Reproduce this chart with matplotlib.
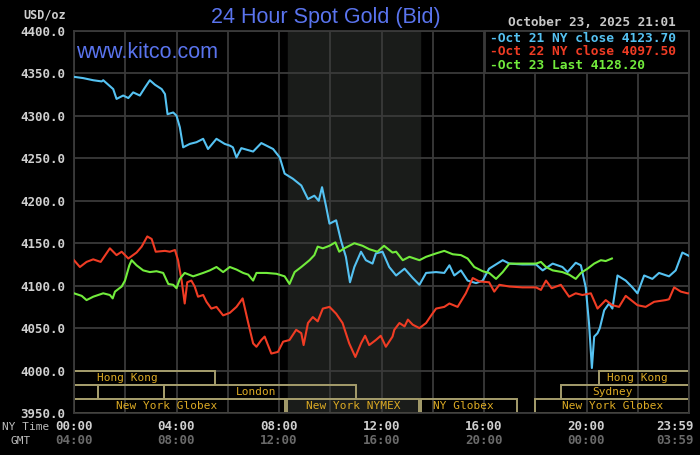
import matplotlib
matplotlib.use("Agg")
from matplotlib import pyplot as plt
from matplotlib.patches import Rectangle
import matplotlib.transforms as mtransforms

# hours since 00:00 NY time, price in USD/oz
blue_t = [0, 0.36, 0.75, 1.08, 1.14, 1.53, 1.66, 1.92, 2.12, 2.31, 2.57, 2.77, 2.96, 3.16,
          3.42, 3.55, 3.65, 3.87, 4.0, 4.13, 4.26, 4.52, 4.78, 5.04, 5.23, 5.56, 5.88, 6.08,
          6.2, 6.34, 6.53, 6.99, 7.31, 7.77, 8.03, 8.22, 8.54, 8.87, 9.13, 9.38, 9.55, 9.68,
          9.84, 9.97, 10.23, 10.42, 10.61, 10.77, 10.94, 11.2, 11.39, 11.65, 11.78, 12.04,
          12.3, 12.57, 12.9, 13.22, 13.48, 13.74, 14.13, 14.45, 14.65, 14.84, 15.1, 15.36,
          15.69, 15.95, 16.2, 16.73, 16.99, 17.5, 18.03, 18.29, 18.68, 19.06, 19.26, 19.58,
          19.78, 19.97, 20.1, 20.21, 20.3, 20.43, 20.52, 20.69, 20.88, 21.01, 21.21, 21.53,
          21.79, 21.99, 22.25, 22.57, 22.83, 23.22, 23.48, 23.74, 23.94, 24.0]
blue_p = [4346, 4344.5, 4342, 4340.6, 4342, 4331.6, 4320, 4324, 4321, 4327.7, 4324, 4333.5,
          4342, 4336.7, 4331.6, 4325.7, 4302, 4304, 4300.3, 4286.6, 4263, 4267, 4269, 4273,
          4261, 4273, 4267, 4265, 4263, 4251, 4262, 4258, 4268, 4261, 4251, 4232, 4226, 4218,
          4202, 4206, 4200, 4216, 4193, 4173, 4177, 4153, 4134, 4104, 4122, 4140, 4130, 4126,
          4138, 4140, 4122, 4112, 4120, 4109, 4101, 4115, 4116, 4115, 4124, 4112, 4118, 4106,
          4103, 4106, 4120, 4130, 4126, 4125, 4125, 4118, 4126, 4122, 4116, 4127, 4124, 4098,
          4055, 4003, 4040, 4044, 4050, 4071, 4079, 4073, 4112, 4106, 4098, 4091, 4112, 4108,
          4115, 4111, 4118, 4139, 4136, 4135]

red_t = [0, 0.23, 0.49, 0.75, 1.04, 1.4, 1.66, 1.86, 2.12, 2.44, 2.64, 2.86, 3.03, 3.19,
         3.55, 3.74, 3.94, 4.06, 4.2, 4.32, 4.42, 4.58, 4.71, 4.84, 5.04, 5.17, 5.36, 5.56,
         5.82, 6.08, 6.34, 6.58, 6.8, 6.99, 7.12, 7.31, 7.44, 7.7, 7.96, 8.16, 8.41, 8.67,
         8.87, 8.96, 9.13, 9.32, 9.51, 9.71, 9.97, 10.23, 10.48, 10.74, 10.98, 11.2, 11.36,
         11.52, 11.78, 11.97, 12.17, 12.43, 12.5, 12.7, 12.9, 13.03, 13.22, 13.48, 13.74,
         13.94, 14.13, 14.45, 14.65, 14.97, 15.29, 15.56, 15.82, 16.2, 16.4, 16.6, 16.99,
         17.5, 18.03, 18.22, 18.42, 18.64, 19.0, 19.32, 19.58, 19.84, 20.17, 20.43, 20.75,
         21.01, 21.27, 21.53, 21.99, 22.31, 22.64, 23.09, 23.22, 23.42, 23.68, 23.94, 24.0]
red_p = [4130, 4122, 4128, 4131, 4128, 4144, 4136, 4140, 4132, 4139, 4146, 4158, 4155, 4140,
         4141, 4140, 4142, 4130, 4106, 4079, 4104, 4106, 4099, 4087, 4089, 4081, 4073, 4075,
         4065, 4068, 4075, 4085, 4056, 4032, 4028, 4036, 4040, 4020, 4022, 4034, 4036, 4048,
         4044, 4030, 4056, 4063, 4058, 4073, 4075, 4067, 4056, 4032, 4016, 4032, 4041, 4030,
         4036, 4041, 4028, 4040, 4048, 4056, 4052, 4060, 4054, 4050, 4056, 4065, 4073, 4075,
         4079, 4075, 4091, 4109, 4105, 4104, 4093, 4101, 4099, 4098, 4098, 4095, 4106, 4097,
         4101, 4087, 4091, 4089, 4091, 4073, 4083, 4077, 4075, 4088, 4077, 4075, 4081, 4083,
         4084, 4098, 4093, 4091, 4091]

green_t = [0, 0.3, 0.49, 0.75, 1.14, 1.4, 1.51, 1.6, 1.86, 1.99, 2.16, 2.25, 2.44, 2.7, 2.96,
           3.22, 3.48, 3.68, 3.87, 4.0, 4.13, 4.32, 4.65, 5.04, 5.3, 5.56, 5.82, 6.08, 6.34,
           6.6, 6.8, 6.99, 7.12, 7.51, 7.9, 8.22, 8.41, 8.61, 8.87, 9.19, 9.38, 9.51, 9.71,
           9.97, 10.2, 10.35, 10.55, 10.94, 11.26, 11.52, 11.84, 12.1, 12.43, 12.57, 12.83,
           13.09, 13.48, 13.74, 14.13, 14.45, 14.78, 15.1, 15.36, 15.62, 15.95, 16.2, 16.47,
           16.73, 16.99, 17.5, 18.03, 18.22, 18.42, 18.68, 19.06, 19.32, 19.58, 19.78, 20.04,
           20.3, 20.56, 20.75, 20.99]
green_p = [4091, 4088, 4083, 4087, 4091, 4089, 4085, 4093, 4099, 4106, 4124, 4130, 4124, 4118,
           4116, 4117, 4115, 4102, 4101, 4097, 4108, 4115, 4111, 4115, 4118, 4122, 4116, 4122,
           4119, 4115, 4113, 4106, 4115, 4115, 4114, 4111, 4102, 4116, 4122, 4130, 4136, 4146,
           4144, 4147, 4151, 4140, 4144, 4150, 4147, 4143, 4140, 4147, 4139, 4140, 4130, 4134,
           4130, 4134, 4138, 4141, 4137, 4136, 4132, 4122, 4117, 4115, 4108, 4116, 4126, 4126,
           4126, 4128, 4122, 4118, 4116, 4113, 4108, 4115, 4120, 4126, 4130, 4129, 4132]

legend_labels = ["-Oct 21 NY close 4123.70", "-Oct 22 NY close 4097.50", "-Oct 23 Last 4128.20"]
y_ticks = [3950, 4000, 4050, 4100, 4150, 4200, 4250, 4300, 4350, 4400]
ny_labels = ["00:00", "04:00", "08:00", "12:00", "16:00", "20:00", "23:59"]
gmt_labels = ["04:00", "08:00", "12:00", "16:00", "20:00", "00:00", "03:59"]

# market sessions: (row, start, end, label, label position)
sessions = [
    (0, 0.0, 5.5, "Hong Kong", 2.1),
    (0, 20.5, 24.0, "Hong Kong", 22.0),
    (1, 0.0, 0.92, "", 0),
    (1, 0.92, 3.5, "", 0),
    (1, 3.5, 11.0, "London", 7.1),
    (1, 19.0, 24.0, "Sydney", 21.0),
    (2, 0.0, 8.25, "New York Globex", 3.63),
    (2, 8.33, 13.47, "New York NYMEX", 10.9),
    (2, 13.53, 17.3, "NY Globex", 15.2),
    (2, 18.0, 24.0, "New York Globex", 21.0),
]

BLUE = "#55c2f2"
RED = "#f03c24"
GREEN = "#72ec3c"
GRID = "#3a3a3a"
MONO = "DejaVu Sans Mono"

fig = plt.figure(figsize=(7, 4.55), dpi=100, facecolor="black")
ax = fig.add_axes([74 / 700, 42 / 455, 615 / 700, 382 / 455])
ax.set_facecolor("black")
ax.set_xlim(0, 24)
ax.set_ylim(3950, 4400)

# NYMEX hours shading
ax.axvspan(8.333, 13.5, color="#1a1c1a", zorder=0)

ax.set_xticks(range(0, 25, 2))
ax.set_yticks(y_ticks)
ax.grid(True, color=GRID, linewidth=1.3, zorder=1)
ax.tick_params(length=0, labelbottom=False)
ax.set_yticklabels([f"{v:.1f}" for v in y_ticks], fontfamily=MONO, fontweight="bold",
                   fontsize=9, color="#cfcfcf")
ax.tick_params(axis="y", pad=6)
for s in ax.spines.values():
    s.set_color(GRID)
    s.set_linewidth(1.3)

ax.plot(blue_t, blue_p, color=BLUE, lw=1.5, zorder=3)
ax.plot(red_t, red_p, color=RED, lw=1.5, zorder=3)
ax.plot(green_t, green_p, color=GREEN, lw=1.5, zorder=4)

# session boxes in bottom 50 dollars
row_h = 50 / 3
for row, start, end, label, lx in sessions:
    y0 = 4000 - (row + 1) * row_h
    ax.add_patch(Rectangle((start, y0), end - start, row_h, facecolor="none",
                           edgecolor="#a59d6c", lw=1.4, zorder=2))
    if label:
        ax.text(lx, y0 + row_h / 2, label, ha="center", va="center", fontfamily=MONO,
                fontsize=8, color="#dcaa24", zorder=5)

# x labels, NY time and GMT
trans = mtransforms.blended_transform_factory(ax.transData, fig.transFigure)
for i, (ny, gmt) in enumerate(zip(ny_labels, gmt_labels)):
    x = i * 4 if i < 6 else 24.2
    ha = "center" if i < 6 else "right"
    ax.text(x, 1 - 426 / 455, ny, transform=trans, ha=ha, va="center", fontfamily=MONO,
            fontweight="bold", fontsize=9, color="#cfcfcf")
    ax.text(x, 1 - 441 / 455, gmt, transform=trans, ha=ha, va="center", fontfamily=MONO,
            fontweight="bold", fontsize=9, color="#6a6a6a")
fig.text(2 / 700, 1 - 427 / 455, "NY Time", ha="left", va="center", fontfamily=MONO,
         fontsize=8, color="#bdbdbd")
fig.text(21 / 700, 1 - 441 / 455, "GMT", ha="center", va="center", fontfamily=MONO,
         fontsize=8, color="#bdbdbd")
fig.text(45 / 700, 1 - 15 / 455, "USD/oz", ha="center", va="center", fontfamily=MONO,
         fontweight="bold", fontsize=8.5, color="#cfcfcf")

# titles
fig.text(326 / 700, 1 - 17 / 455, "24 Hour Spot Gold (Bid)", ha="center", va="center",
         fontfamily="Liberation Sans", fontsize=15.5, color="#5a74ee")
fig.text(76 / 700, 1 - 53 / 455, "www.kitco.com", ha="left", va="center",
         fontfamily="Liberation Sans", fontsize=15.5, color="#5a74ee", zorder=6)
fig.text(676 / 700, 1 - 22 / 455, "October 23, 2025 21:01", ha="right", va="center",
         fontfamily=MONO, fontweight="bold", fontsize=9.2, color="#c8c8c8")

# legend box
fig.patches.append(Rectangle((485 / 700, 1 - 73 / 455), 204 / 700, 42 / 455,
                             transform=fig.transFigure, facecolor="black",
                             edgecolor=GRID, lw=1.3, zorder=6))
for lab, col, yy in zip(legend_labels, [BLUE, RED, GREEN], [38, 51.5, 65.5]):
    fig.text(490 / 700, 1 - yy / 455, lab, ha="left", va="center", fontfamily=MONO,
             fontweight="bold", fontsize=9.3, color=col, zorder=7)

plt.savefig("out.png", dpi=100, facecolor="black")
